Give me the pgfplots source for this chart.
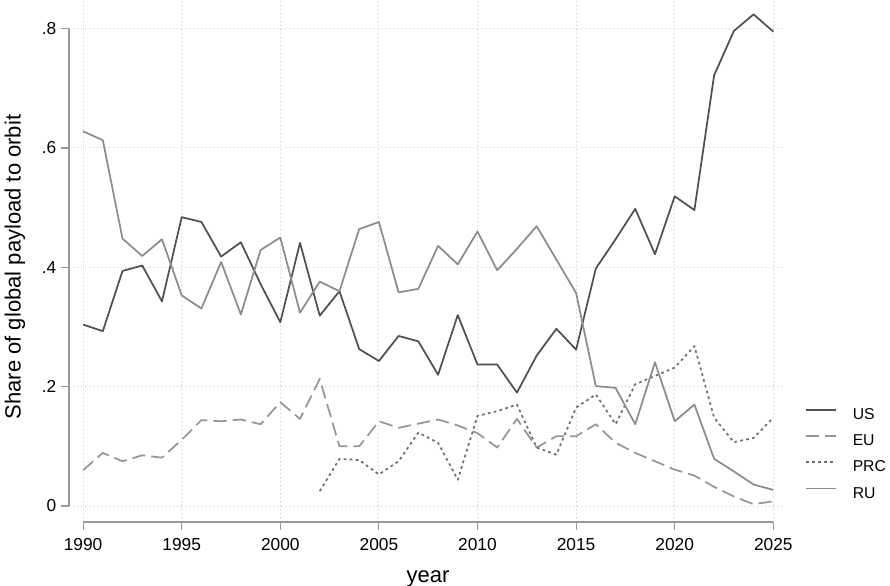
\documentclass[border=0pt]{standalone}
\usepackage{fontspec}
\setmainfont{Liberation Sans}
\usepackage{pgfplots}
\usepackage{pgfplotstable}
\pgfplotsset{compat=1.18}
\definecolor{cUS}{HTML}{505050}
\definecolor{cRU}{HTML}{8C8C8C}
\definecolor{cEU}{HTML}{969696}
\definecolor{cPRC}{HTML}{6E6E6E}
\definecolor{cgrid}{HTML}{C6C6C6}
\definecolor{caxis}{HTML}{999999}

\pgfplotstableread{
year val
1990 0.304
1991 0.293
1992 0.394
1993 0.403
1994 0.343
1995 0.484
1996 0.476
1997 0.418
1998 0.442
1999 0.372
2000 0.308
2001 0.441
2002 0.319
2003 0.360
2004 0.263
2005 0.243
2006 0.285
2007 0.276
2008 0.220
2009 0.320
2010 0.237
2011 0.237
2012 0.190
2013 0.252
2014 0.297
2015 0.262
2016 0.398
2017 0.447
2018 0.498
2019 0.422
2020 0.519
2021 0.496
2022 0.722
2023 0.796
2024 0.824
2025 0.795
}\dataUS

\pgfplotstableread{
year val
1990 0.060
1991 0.089
1992 0.075
1993 0.085
1994 0.081
1995 0.111
1996 0.144
1997 0.142
1998 0.145
1999 0.137
2000 0.174
2001 0.146
2002 0.213
2003 0.100
2004 0.100
2005 0.142
2006 0.131
2007 0.138
2008 0.145
2009 0.135
2010 0.122
2011 0.098
2012 0.146
2013 0.098
2014 0.117
2015 0.117
2016 0.137
2017 0.106
2018 0.089
2019 0.075
2020 0.061
2021 0.051
2022 0.032
2023 0.016
2024 0.003
2025 0.008
}\dataEU

\pgfplotstableread{
year val
2002 0.025
2003 0.079
2004 0.077
2005 0.053
2006 0.075
2007 0.123
2008 0.106
2009 0.044
2010 0.151
2011 0.159
2012 0.170
2013 0.098
2014 0.086
2015 0.165
2016 0.187
2017 0.137
2018 0.204
2019 0.218
2020 0.232
2021 0.268
2022 0.148
2023 0.107
2024 0.114
2025 0.148
}\dataPRC

\pgfplotstableread{
year val
1990 0.628
1991 0.613
1992 0.448
1993 0.419
1994 0.447
1995 0.353
1996 0.331
1997 0.409
1998 0.321
1999 0.429
2000 0.450
2001 0.324
2002 0.376
2003 0.360
2004 0.464
2005 0.476
2006 0.358
2007 0.364
2008 0.436
2009 0.405
2010 0.460
2011 0.395
2012 0.431
2013 0.469
2014 0.413
2015 0.357
2016 0.201
2017 0.198
2018 0.137
2019 0.241
2020 0.142
2021 0.170
2022 0.079
2023 0.058
2024 0.036
2025 0.027
}\dataRU

\begin{document}
\begin{tikzpicture}
\useasboundingbox (0,0) rectangle (667.5pt,439.5pt);
\begin{axis}[
  at={(51.75pt,48pt)}, anchor=south west,
  scale only axis, width=534.375pt, height=391.5pt,
  xmin=1989.285, xmax=2025.416, ymin=-0.0268, ymax=0.848,
  axis x line=bottom, axis y line=left,
  axis line style={draw=none},
  xtick={1990,1995,2000,2005,2010,2015,2020,2025},
  xticklabels={1990,1995,2000,2005,2010,2015,2020,2025},
  ytick={0,0.2,0.4,0.6,0.8}, yticklabels={0,.2,.4,.6,.8},
  tick align=outside, major tick length=6pt,
  tick style={caxis, line width=0.8pt},
  grid=major,
  major grid style={cgrid, line width=0.75pt, dash pattern=on 0.75pt off 2.25pt},
  ticklabel style={font=\fontsize{13}{15}\selectfont},
  xticklabel style={yshift=-3pt},
  /pgf/number format/assume math mode=true,
  clip mode=individual,
  xlabel={year}, ylabel={Share of global payload to orbit},
  label style={font=\fontsize{16.5}{19}\selectfont},
  xlabel style={at={(axis description cs:0.504,-0.116)}, anchor=base},
  ylabel style={at={(axis description cs:-0.0758,0.4885)}, anchor=center},
  legend style={at={(axis description cs:1.033,0.2203)}, anchor=north west,
    draw=none, fill=none, inner sep=0pt, row sep=7.7pt,
    font=\fontsize{11.8}{14}\selectfont,
    nodes={inner sep=0pt, text height=9pt, text depth=3pt}},
  legend cell align=left,
  legend image code/.code={\draw[#1] (0pt,4.2pt) -- (22.5pt,4.2pt); \path (34.3pt,4.2pt);},
  every axis plot/.append style={line width=1.3pt, line join=round},
]
\addplot[cUS] table[x=year,y=val] {\dataUS};
\addlegendentry{US}
\addplot[cEU, dash pattern=on 10pt off 4.5pt] table[x=year,y=val] {\dataEU};
\addlegendentry{EU}
\addplot[cPRC, dash pattern=on 2pt off 2.5pt] table[x=year,y=val] {\dataPRC};
\addlegendentry{PRC}
\addplot[cRU] table[x=year,y=val] {\dataRU};
\addlegendentry{RU}
\draw[caxis, line width=0.8pt] (axis cs:1990,-0.0268) -- (axis cs:2025,-0.0268);
\draw[caxis, line width=0.8pt] (axis cs:1989.285,0) -- (axis cs:1989.285,0.8);
\end{axis}
\end{tikzpicture}
\end{document}
